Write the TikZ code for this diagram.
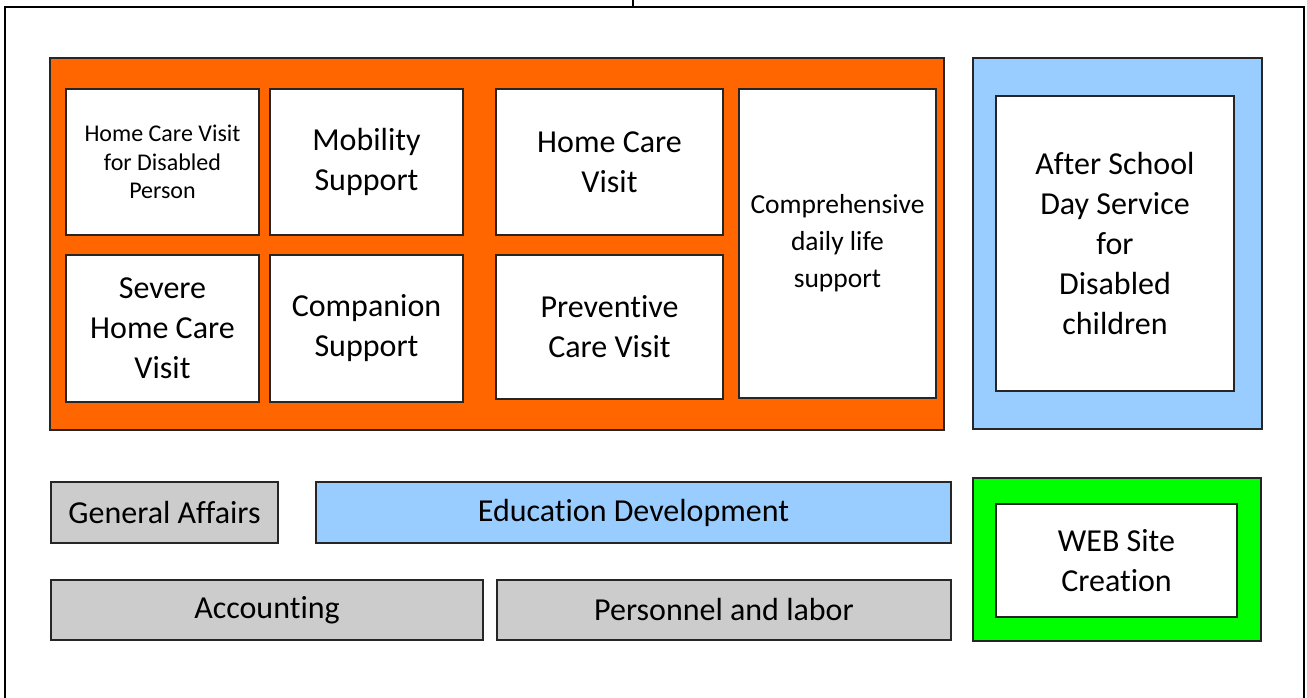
\documentclass[tikz,border=0pt]{standalone}
\usepackage{fontspec}
\setmainfont{Carlito}[Ligatures=NoCommon]
\definecolor{orangefill}{HTML}{FF6600}
\definecolor{skyfill}{HTML}{99CCFF}
\definecolor{greyfill}{HTML}{CCCCCC}
\definecolor{limefill}{HTML}{00FF00}
\definecolor{edge}{HTML}{262626}
\begin{document}
\begin{tikzpicture}[x=1pt,y=-1pt,
  box/.style={draw=edge,line width=1.3pt,outer sep=0pt,inner sep=0pt,
    anchor=north west,align=center,text=black},
  big/.style={font=\fontsize{32}{40}\selectfont},
  mid/.style={font=\fontsize{27.5}{37}\selectfont},
  small/.style={font=\fontsize{24}{28.5}\selectfont},
  panel/.style={box},
  card/.style={box,fill=white},
  dept/.style={box,fill=greyfill,big},
]
\clip (0,0) rectangle (1307,698);

% outer frame and the line leading up out of it
\node[draw=black,line width=2.5pt,minimum width=1299pt,minimum height=740pt,
      anchor=north west,inner sep=0pt,outer sep=0pt] (frame) at (5,7) {};
\coordinate (up) at (633,-5);
\draw[line width=1.5pt] (up) -- (up |- frame.north);

% home care services panel
\node[panel,fill=orangefill,minimum width=894pt,minimum height=372pt] (care) at (50,58) {};
\node[card,small,minimum width=193pt,minimum height=146pt] (hcvd) at (66,89)
  {Home Care Visit\\for Disabled\\Person};
\node[card,big,minimum width=193pt,minimum height=146pt] (mob) at (270,89)
  {Mobility\\Support};
\node[card,big,minimum width=193pt,minimum height=147pt] (sev) at (66,255)
  {Severe\\Home Care\\Visit};
\node[card,big,minimum width=193pt,minimum height=147pt] (comp) at (270,255)
  {Companion\\Support};
\node[card,big,minimum width=227pt,minimum height=146pt] (hcv) at (496,89)
  {Home Care\\Visit};
\node[card,big,minimum width=227pt,minimum height=144pt] (prev) at (496,255)
  {Preventive\\Care Visit};
\node[card,mid,minimum width=197pt,minimum height=309pt] (daily) at (739,89)
  {Comprehensive\\daily life\\support};

% after school panel
\node[panel,fill=skyfill,minimum width=289pt,minimum height=371pt] (kids) at (973,58) {};
\node[card,big,minimum width=238pt,minimum height=295pt] (after) at (996,96)
  {After School\\Day Service\\for\\Disabled\\children};

% administrative departments
\node[dept,minimum width=227pt,minimum height=61pt] (gen) at (51,482) {General Affairs};
\node[box,fill=skyfill,big,minimum width=635pt,minimum height=61pt] (edu) at (316,482)
  {Education Development};
\node[dept,minimum width=432pt,minimum height=60pt] (acc) at (51,580) {Accounting};
\node[dept,minimum width=454pt,minimum height=60pt] (pers) at (497,580) {Personnel and labor};

% web panel
\node[panel,fill=limefill,minimum width=288pt,minimum height=163pt] (webp) at (973,478) {};
\node[card,big,minimum width=241pt,minimum height=113pt] (web) at (996,504)
  {WEB Site\\Creation};
\end{tikzpicture}
\end{document}
